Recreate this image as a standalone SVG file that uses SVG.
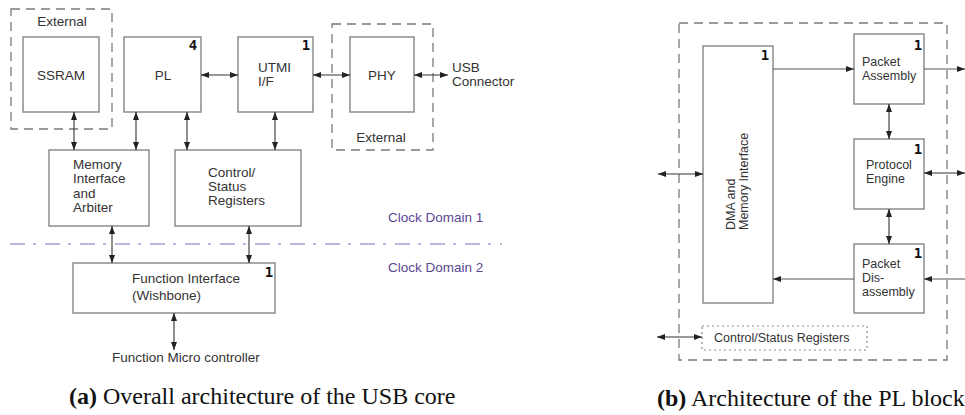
<svg xmlns="http://www.w3.org/2000/svg" width="965" height="415" viewBox="0 0 965 415">
  <defs>
    <marker id="ah" viewBox="0 0 8 6" refX="8" refY="3" markerWidth="8" markerHeight="6" markerUnits="userSpaceOnUse" orient="auto-start-reverse">
      <path d="M0,0 L8,3 L0,6 z" fill="#222"/>
    </marker>
  </defs>
  <style>
    .box { fill: #fff; stroke: #858585; stroke-width: 1.4; }
    .ext { fill: none; stroke: #7a7a7a; stroke-width: 1.3; stroke-dasharray: 9 6; }
    .dot { fill: none; stroke: #8a8a8a; stroke-width: 1.2; stroke-dasharray: 2 3; }
    .lbl { font-family: "Liberation Sans", Arial, sans-serif; font-size: 13.5px; fill: #333; }
    .lblb { font-family: "Liberation Sans", Arial, sans-serif; font-size: 12.5px; fill: #333; }
    .num { font-family: "DejaVu Sans Mono", "Liberation Mono", monospace; font-weight: bold; font-size: 14px; fill: #111; text-anchor: middle; }
    .dom { font-family: "Liberation Sans", Arial, sans-serif; font-size: 13.5px; fill: #5a4894; }
    .cap { font-family: "Liberation Serif", "Times New Roman", serif; font-size: 24px; fill: #111; }
    .mid { text-anchor: middle; }
    .bi { fill: none; stroke: #333; stroke-width: 1.1; marker-start: url(#ah); marker-end: url(#ah); }
    .one { fill: none; stroke: #555; stroke-width: 1.1; marker-end: url(#ah); }
  </style>

  <!-- (a) overall architecture -->
  <g id="ext-ssram">
    <rect class="ext" x="11" y="9" width="101" height="120"/>
    <text class="lbl mid" x="62" y="26">External</text>
  </g>
  <g id="ssram">
    <rect class="box" x="23" y="37" width="76" height="75"/>
    <text class="lbl mid" x="61" y="80">SSRAM</text>
  </g>
  <g id="pl">
    <rect class="box" x="124" y="37" width="77" height="75"/>
    <text class="lbl mid" x="163" y="80">PL</text>
    <text class="num" x="193" y="50">4</text>
  </g>
  <g id="utmi">
    <rect class="box" x="238" y="37" width="75" height="75"/>
    <text class="lbl" x="258" y="72">UTMI</text>
    <text class="lbl" x="258" y="86">I/F</text>
    <text class="num" x="306" y="50">1</text>
  </g>
  <g id="ext-phy">
    <rect class="ext" x="332" y="24" width="101" height="126"/>
    <text class="lbl mid" x="381" y="142">External</text>
  </g>
  <g id="phy">
    <rect class="box" x="350" y="37" width="64" height="75"/>
    <text class="lbl mid" x="382" y="80">PHY</text>
  </g>
  <g id="usb-connector">
    <text class="lbl" x="452" y="72">USB</text>
    <text class="lbl" x="452" y="86">Connector</text>
  </g>
  <g id="memory">
    <rect class="box" x="49" y="150" width="100" height="76"/>
    <text class="lbl" x="73" y="169">Memory</text>
    <text class="lbl" x="73" y="183">Interface</text>
    <text class="lbl" x="73" y="198">and</text>
    <text class="lbl" x="73" y="212">Arbiter</text>
  </g>
  <g id="control">
    <rect class="box" x="175" y="150" width="126" height="76"/>
    <text class="lbl" x="208" y="177">Control/</text>
    <text class="lbl" x="208" y="191">Status</text>
    <text class="lbl" x="208" y="205">Registers</text>
  </g>
  <g id="clock-domains">
    <line x1="10" y1="244" x2="502" y2="244" stroke="#a89ccf" stroke-width="1.3" stroke-dasharray="15 8 3 9"/>
    <text class="dom" x="388" y="222">Clock Domain 1</text>
    <text class="dom" x="388" y="272">Clock Domain 2</text>
  </g>
  <g id="function-if">
    <rect class="box" x="73" y="263" width="202" height="50"/>
    <text class="lbl" x="132" y="283">Function Interface</text>
    <text class="lbl" x="132" y="300">(Wishbone)</text>
    <text class="num" x="269" y="277">1</text>
  </g>
  <g id="micro">
    <text class="lbl" x="112" y="362">Function Micro controller</text>
  </g>
  <text class="cap" x="69" y="404"><tspan font-weight="bold">(a)</tspan> Overall architecture of the USB core</text>

  <!-- (b) PL block -->
  <g id="pl-outer">
    <rect class="ext" x="679" y="23" width="268" height="337"/>
  </g>
  <g id="dma">
    <rect class="box" x="703" y="46" width="70" height="257"/>
    <text class="lblb" transform="translate(735,230) rotate(-90)" font-size="13px"><tspan x="0" y="0">DMA and</tspan><tspan x="0" y="12.5">Memory Interface</tspan></text>
    <text class="num" x="765" y="60">1</text>
  </g>
  <g id="packet-assembly">
    <rect class="box" x="854" y="34" width="70" height="70"/>
    <text class="lblb" x="862" y="66">Packet</text>
    <text class="lblb" x="862" y="80">Assembly</text>
    <text class="num" x="918" y="50">1</text>
  </g>
  <g id="protocol-engine">
    <rect class="box" x="854" y="139" width="70" height="70"/>
    <text class="lblb" x="866" y="169">Protocol</text>
    <text class="lblb" x="866" y="183">Engine</text>
    <text class="num" x="918" y="154">1</text>
  </g>
  <g id="packet-disassembly">
    <rect class="box" x="854" y="244" width="70" height="69"/>
    <text class="lblb" x="862" y="268">Packet</text>
    <text class="lblb" x="862" y="282">Dis-</text>
    <text class="lblb" x="862" y="296">assembly</text>
    <text class="num" x="918" y="258">1</text>
  </g>
  <g id="csr">
    <rect class="dot" x="702" y="326" width="165" height="24"/>
    <text class="lblb" x="714" y="342">Control/Status Registers</text>
  </g>
  <text class="cap" x="657" y="406" font-size="23.3px"><tspan font-weight="bold">(b)</tspan> Architecture of the PL block</text>

  <!-- connectors -->
  <g id="connectors">
    <line class="bi" x1="201" y1="75" x2="238" y2="75"/>
    <line class="bi" x1="313" y1="75" x2="350" y2="75"/>
    <line class="bi" x1="414" y1="75" x2="448" y2="75"/>
    <line class="bi" x1="74" y1="112" x2="74" y2="150"/>
    <line class="bi" x1="136" y1="112" x2="136" y2="150"/>
    <line class="bi" x1="187" y1="112" x2="187" y2="150"/>
    <line class="bi" x1="275" y1="112" x2="275" y2="150"/>
    <line class="bi" x1="112" y1="226" x2="112" y2="263"/>
    <line class="bi" x1="249" y1="226" x2="249" y2="263"/>
    <line class="bi" x1="174" y1="313" x2="174" y2="350"/>

    <line class="one" x1="773" y1="69" x2="854" y2="69"/>
    <line class="one" x1="924" y1="69" x2="965" y2="69"/>
    <line class="bi" x1="889" y1="104" x2="889" y2="139"/>
    <line class="bi" x1="889" y1="209" x2="889" y2="244"/>
    <line class="bi" x1="924" y1="173" x2="965" y2="173"/>
    <line class="bi" x1="658" y1="174" x2="703" y2="174"/>
    <line class="one" x1="854" y1="279" x2="773" y2="279"/>
    <line class="one" x1="970" y1="279" x2="924" y2="279"/>
    <line class="bi" x1="657" y1="337" x2="702" y2="337"/>
  </g>
</svg>
